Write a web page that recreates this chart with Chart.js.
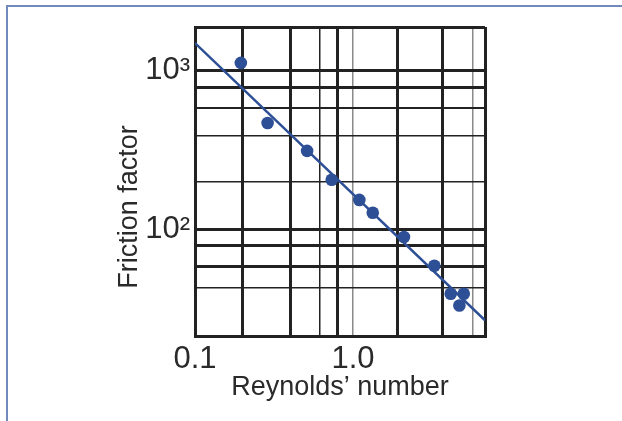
<!DOCTYPE html>
<html>
<head>
<meta charset="utf-8">
<script src="https://cdn.jsdelivr.net/npm/chart.js@4/dist/chart.umd.min.js"></script>
<style>
  html, body { margin: 0; padding: 0; background: #fff; }
  #wrap { position: relative; width: 622px; height: 421px; overflow: hidden; }
  #frame { position: absolute; left: 6px; top: 5px; right: -10px; bottom: -10px;
           border-top: 2px solid #7189bb; border-left: 2px solid #7189bb; }
  canvas { position: absolute; left: 0; top: 0; }
</style>
</head>
<body>
<div id="wrap">
  <canvas id="chart" width="622" height="421"></canvas>
  <div id="frame"></div>
</div>
<script>
// measured points (Reynolds' number, friction factor)
const reynolds = [0.195, 0.288, 0.512, 0.733, 1.096, 1.333, 2.10, 3.27, 4.15, 5.02, 4.71];
const friction = [1118, 469, 313, 206, 154, 128, 90, 59.4, 39.6, 39.6, 33.4];

// fitted line end points
const fitX = [0.1, 6.84];
const fitY = [1490, 27];

// axis ranges
const xRange = [0.1, 6.84];
const yRange = [21.5, 1880];

// grid lines drawn on the paper, with weights
const xGrid = [0.1, 0.2, 0.4, 0.62, 0.8, 1, 1.9, 3.7, 5.7, 6.84];
const xGridWidth = [3, 3, 3, 1.5, 3, 1.5, 3, 3, 1.5, 3];
const xGridColor = ['#222', '#222', '#222', '#222', '#222', '#8a8a8a', '#222', '#222', '#8a8a8a', '#222'];
const xLabels = { 0.1: '0.1', 1: '1.0' };

const yGrid = [21.5, 43, 59, 80, 100, 200, 390, 580, 780, 1000, 1880];
const yGridWidth = [3, 1.5, 3, 3, 3, 1.5, 1.5, 2, 3, 3, 3];
const yLabels = { 100: '10\u00B2', 1000: '10\u00B3' };

const blue = '#2d4f96';
const ink = '#222';

const titles = {
  id: 'titles',
  afterDraw(chart) {
    const ctx = chart.ctx;
    ctx.save();
    ctx.fillStyle = '#2a2a2a';
    ctx.font = '27px "Liberation Sans", Arial, sans-serif';
    ctx.textAlign = 'center';
    ctx.textBaseline = 'middle';
    ctx.fillText('Reynolds\u2019 number', 340, 388);
    ctx.translate(130, 207);
    ctx.rotate(-Math.PI / 2);
    ctx.fillText('Friction factor', 0, 0);
    ctx.restore();
  }
};

new Chart(document.getElementById('chart'), {
  type: 'scatter',
  data: {
    datasets: [
      {
        data: reynolds.map((x, i) => ({ x: x, y: friction[i] })),
        backgroundColor: blue,
        borderColor: blue,
        pointRadius: 6.3,
        pointBorderWidth: 0
      },
      {
        data: fitX.map((x, i) => ({ x: x, y: fitY[i] })),
        showLine: true,
        borderColor: blue,
        borderWidth: 2.5,
        pointRadius: 0
      }
    ]
  },
  options: {
    responsive: false,
    animation: false,
    events: [],
    layout: { padding: { left: 0, right: 137, top: 27, bottom: 0 } },
    plugins: { legend: { display: false }, tooltip: { enabled: false } },
    scales: {
      x: {
        type: 'logarithmic',
        min: xRange[0],
        max: xRange[1],
        afterBuildTicks: s => { s.ticks = xGrid.map(v => ({ value: v })); },
        afterFit: s => { s.height = 85; },
        border: { color: ink, width: 3 },
        grid: {
          drawTicks: false,
          color: c => xGridColor[xGrid.indexOf(c.tick.value)] || ink,
          lineWidth: c => xGridWidth[xGrid.indexOf(c.tick.value)] || 1.5
        },
        ticks: {
          padding: 5,
          autoSkip: false,
          maxRotation: 0,
          color: '#2a2a2a',
          font: { family: '"Liberation Sans", Arial, sans-serif', size: 31 },
          callback: v => xLabels[v] || ''
        }
      },
      y: {
        type: 'logarithmic',
        min: yRange[0],
        max: yRange[1],
        afterBuildTicks: s => { s.ticks = yGrid.map(v => ({ value: v })); },
        afterFit: s => { s.width = 195; },
        border: { color: ink, width: 3 },
        grid: {
          drawTicks: false,
          color: ink,
          lineWidth: c => yGridWidth[yGrid.indexOf(c.tick.value)] || 1.5
        },
        ticks: {
          padding: 5,
          autoSkip: false,
          color: '#2a2a2a',
          font: { family: '"Liberation Sans", Arial, sans-serif', size: 31 },
          callback: v => yLabels[v] || ''
        }
      }
    }
  },
  plugins: [titles]
});
</script>
</body>
</html>
